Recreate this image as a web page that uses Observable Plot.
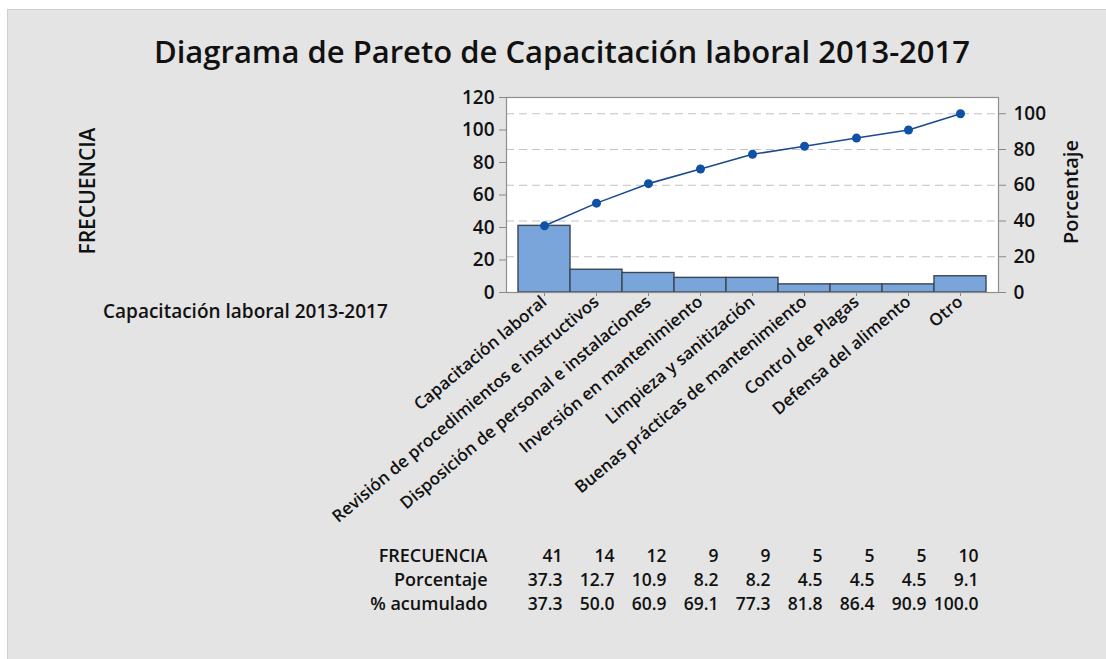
<!DOCTYPE html>
<html>
<head>
<meta charset="utf-8">
<script src="https://cdn.jsdelivr.net/npm/d3@7"></script>
<script src="https://cdn.jsdelivr.net/npm/@observablehq/plot@0.6"></script>
<style>
  html, body { margin: 0; padding: 0; background: #ffffff; }
  #root { position: relative; width: 1106px; height: 659px; overflow: hidden; font-family: "Open Sans", "Noto Sans", sans-serif; color: #111; }
  #panel { position: absolute; left: 7px; top: 9px; right: 0; bottom: 0; background: #e4e4e4; border-left: 1px solid #cdcdcd; border-top: 1px solid #cdcdcd; }
  .abs { position: absolute; white-space: nowrap; }
  #title { left: 0; width: 1124px; top: 30px; text-align: center; font-size: 31px; font-weight: 600; }
  #ylab { left: 87px; top: 191px; font-size: 21px; font-weight: 600; transform: translate(-50%, -50%) rotate(-90deg); }
  #y2lab { left: 1070px; top: 192px; font-size: 20px; font-weight: 600; transform: translate(-50%, -50%) rotate(-90deg); }
  #sub { left: 103px; top: 298px; font-size: 19px; font-weight: 600; }
  #main { position: absolute; left: 0; top: 0; }
  #table { position: absolute; left: 0; top: 540px; }
</style>
</head>
<body>
<div id="root">
  <div id="panel"></div>
  <div id="main"></div>
  <div id="table"></div>
  <div class="abs" id="title">Diagrama de Pareto de Capacitación laboral 2013-2017</div>
  <div class="abs" id="ylab">FRECUENCIA</div>
  <div class="abs" id="y2lab">Porcentaje</div>
  <div class="abs" id="sub">Capacitación laboral 2013-2017</div>
</div>
<script>
const categories = [
  "Capacitación laboral",
  "Revisión de procedimientos e instructivos",
  "Disposición de personal e instalaciones",
  "Inversión en mantenimiento",
  "Limpieza y sanitización",
  "Buenas prácticas de mantenimiento",
  "Control de Plagas",
  "Defensa del alimento",
  "Otro"
];
const frecuencia = [41, 14, 12, 9, 9, 5, 5, 5, 10];
const porcentaje = [37.3, 12.7, 10.9, 8.2, 8.2, 4.5, 4.5, 4.5, 9.1];
const acumulado = [37.3, 50.0, 60.9, 69.1, 77.3, 81.8, 86.4, 90.9, 100.0];
const leftTicks = [0, 20, 40, 60, 80, 100, 120];
const pctTicks = [0, 20, 40, 60, 80, 100];
const rowLabels = ["FRECUENCIA", "Porcentaje", "% acumulado"];

const FONT = '"Open Sans", "Noto Sans", sans-serif';
const total = d3.sum(frecuencia);
const data = categories.map((c, i) => ({cat: c, freq: frecuencia[i], cum: acumulado[i] * total / 100}));
const pctPos = pctTicks.map(p => p * total / 100);

const xScale = {type: "band", domain: categories, paddingInner: 0, paddingOuter: 0.22};

const main = Plot.plot({
  width: 1106,
  height: 540,
  marginLeft: 506,
  marginRight: 108,
  marginTop: 97,
  marginBottom: 248,
  style: {background: "transparent", fontFamily: FONT, color: "#111", overflow: "visible"},
  x: {...xScale, axis: null},
  y: {domain: [0, 120], axis: null},
  marks: [
    Plot.frame({fill: "white", stroke: null}),
    Plot.gridY(pctPos, {stroke: "#c4c4c4", strokeOpacity: 1, strokeDasharray: "8,5", strokeWidth: 1.2}),
    Plot.barY(data, {x: "cat", y: "freq", fill: "#7aa5da", stroke: "#3d4656", strokeWidth: 1.4, insetLeft: 0, insetRight: 0}),
    Plot.line(data, {x: "cat", y: "cum", stroke: "#1b4a92", strokeWidth: 1.6}),
    Plot.dot(data, {x: "cat", y: "cum", r: 4.5, fill: "#0e52a8", stroke: "none"}),
    Plot.axisY(leftTicks, {anchor: "left", tickSize: 7, tickPadding: 5, fontSize: 19, fontWeight: 600, label: null, stroke: "#888"}),
    Plot.axisY(pctPos, {anchor: "right", tickSize: 7, tickPadding: 8, fontSize: 19, fontWeight: 600, label: null, stroke: "#888",
      tickFormat: d => String(Math.round(d / total * 100))}),
    Plot.axisX({anchor: "bottom", tickRotate: -40, tickSize: 4, tickPadding: 3, fontSize: 17, fontWeight: 600, label: null, stroke: "#888"}),
    Plot.frame({stroke: "#8e8e8e", strokeWidth: 1.2})
  ]
});
document.getElementById("main").appendChild(main);

const tableData = [];
categories.forEach((c, i) => {
  tableData.push({cat: c, row: rowLabels[0], text: String(frecuencia[i])});
  tableData.push({cat: c, row: rowLabels[1], text: porcentaje[i].toFixed(1)});
  tableData.push({cat: c, row: rowLabels[2], text: acumulado[i].toFixed(1)});
});

const table = Plot.plot({
  width: 1106,
  height: 80,
  marginLeft: 506,
  marginRight: 108,
  marginTop: 4,
  marginBottom: 4,
  style: {background: "transparent", fontFamily: FONT, color: "#111", overflow: "visible"},
  x: {...xScale, axis: null},
  y: {type: "band", domain: rowLabels, padding: 0, axis: null},
  marks: [
    Plot.axisY({anchor: "left", tickSize: 0, tickPadding: 19, fontSize: 18, fontWeight: 600, label: null}),
    Plot.text(tableData, {x: "cat", y: "row", text: "text", textAnchor: "end", dx: 18, fontSize: 17.5, fontWeight: 600, fill: "#111"})
  ]
});
document.getElementById("table").appendChild(table);
</script>
</body>
</html>
